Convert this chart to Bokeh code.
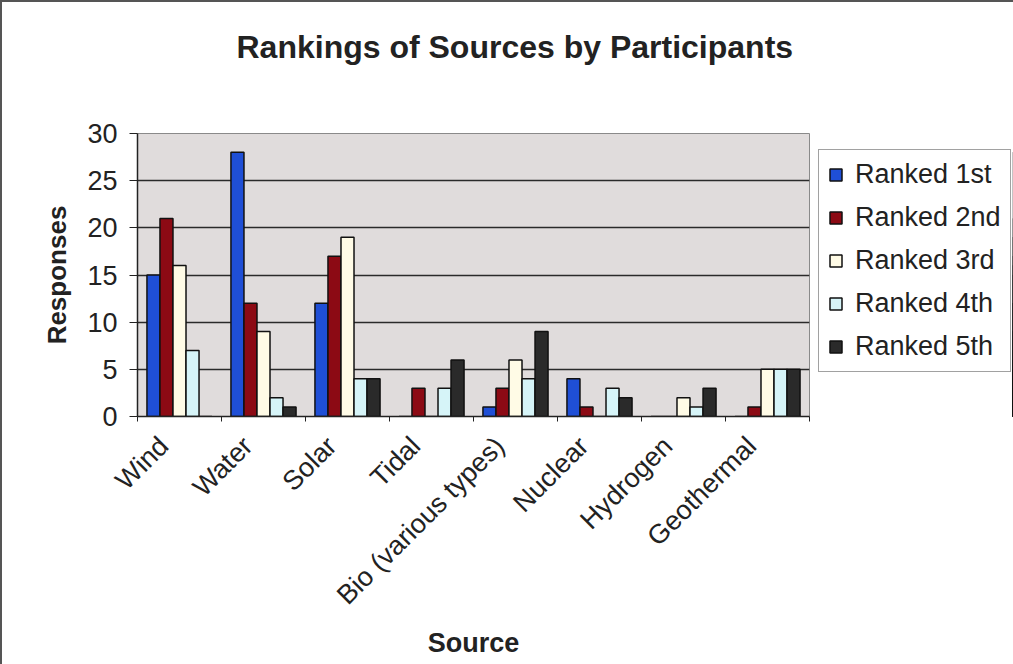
from bokeh.plotting import figure
from bokeh.models import ColumnDataSource, FixedTicker, Legend, LegendItem, Range1d, Title
from bokeh.layouts import row
from bokeh.transform import dodge
from bokeh.embed import file_html
from bokeh.resources import INLINE

# Survey results: how many participants ranked each energy source 1st..5th
sources = ["Wind", "Water", "Solar", "Tidal", "Bio (various types)",
           "Nuclear", "Hydrogen", "Geothermal"]
ranked_1st = [15, 28, 12, 0, 1, 4, 0, 0]
ranked_2nd = [21, 12, 17, 3, 3, 1, 0, 1]
ranked_3rd = [16, 9, 19, 0, 6, 0, 2, 5]
ranked_4th = [7, 2, 4, 3, 4, 3, 1, 5]
ranked_5th = [0, 1, 4, 6, 9, 2, 3, 5]
series_labels = ["Ranked 1st", "Ranked 2nd", "Ranked 3rd", "Ranked 4th", "Ranked 5th"]
y_ticks = [0, 5, 10, 15, 20, 25, 30]

series_values = [ranked_1st, ranked_2nd, ranked_3rd, ranked_4th, ranked_5th]
series_keys = ["r1", "r2", "r3", "r4", "r5"]
colors = ["#1f4fd6", "#8c0a14", "#fffbe6", "#d6f4f8", "#2a2a2a"]

n = len(sources)
centers = [i + 0.5 for i in range(n)]
# rotated category labels hang slightly left of the group centre
label_pos = [i + 0.3125 for i in range(n)]
data = {"pos": centers}
for k, v in zip(series_keys, series_values):
    data[k] = v
src = ColumnDataSource(data)

FONT = "Liberation Sans"
INK = "#222222"
bar_w = 0.155
offsets = [-2 * bar_w, -bar_w, 0, bar_w, 2 * bar_w]

p = figure(width=810, height=664, output_backend="svg", toolbar_location=None,
           x_range=Range1d(0, n), y_range=Range1d(0, max(y_ticks)),
           min_border_left=135, min_border_right=3,
           min_border_top=131, min_border_bottom=250, title=None)
p.background_fill_color = "#e0dcdc"
p.border_fill_color = "white"
p.outline_line_color = "#8a8a8a"
p.outline_line_width = 1

# spacer keeps the heading clear of the plot area
p.add_layout(Title(text=" ", text_font_size="30px", standoff=34), "above")
p.add_layout(Title(text="Rankings of Sources by Participants", align="left", offset=99,
                   standoff=0, text_font=FONT, text_font_style="bold",
                   text_font_size="32px", text_color=INK), "above")

for k, off, c in zip(series_keys, offsets, colors):
    p.vbar(x=dodge("pos", off, range=p.x_range), top=k, width=bar_w,
           bottom=0, source=src, fill_color=c, line_color="#111111",
           line_width=1.5)

# y axis
p.yaxis.ticker = FixedTicker(ticks=y_ticks)
p.yaxis.axis_line_color = INK
p.yaxis.axis_line_width = 1.5
p.yaxis.major_tick_out = 8
p.yaxis.major_tick_in = 0
p.yaxis.minor_tick_out = 0
p.yaxis.minor_tick_in = 0
p.yaxis.major_tick_line_color = INK
p.yaxis.major_label_standoff = 12
p.yaxis.major_label_text_font = FONT
p.yaxis.major_label_text_font_size = "27px"
p.yaxis.major_label_text_color = INK
p.yaxis.axis_label = "Responses"
p.yaxis.axis_label_text_font = FONT
p.yaxis.axis_label_text_font_style = "bold"
p.yaxis.axis_label_text_font_size = "26px"
p.yaxis.axis_label_text_color = INK
p.yaxis.axis_label_standoff = 12

# x axis: rotated labels, tick marks at category boundaries
p.xaxis.ticker = FixedTicker(ticks=label_pos, minor_ticks=list(range(n + 1)))
p.xaxis.major_label_overrides = {c: s for c, s in zip(label_pos, sources)}
p.xaxis.major_label_orientation = 0.785398
p.xaxis.major_tick_out = 0
p.xaxis.major_tick_in = 0
p.xaxis.minor_tick_out = 5
p.xaxis.minor_tick_in = 0
p.xaxis.minor_tick_line_color = INK
p.xaxis.axis_line_color = INK
p.xaxis.axis_line_width = 1.5
p.xaxis.major_label_standoff = 20
p.xaxis.major_label_text_font = FONT
p.xaxis.major_label_text_font_size = "27px"
p.xaxis.major_label_text_color = INK
p.xaxis.axis_label = "Source"
p.xaxis.axis_label_text_font = FONT
p.xaxis.axis_label_text_font_style = "bold"
p.xaxis.axis_label_text_font_size = "27px"
p.xaxis.axis_label_text_color = INK
p.xaxis.axis_label_standoff = 4

p.xgrid.grid_line_color = None
p.ygrid.ticker = FixedTicker(ticks=y_ticks)
p.ygrid.grid_line_color = "#2a2a2a"
p.ygrid.grid_line_width = 1.5

# key panel to the right of the plot; its frame lines up with the plot frame,
# and its x range sits away from the bars so only the key itself shows
q = figure(width=201, height=664, output_backend="svg", toolbar_location=None,
           x_axis_location=None, y_axis_location=None, title=None,
           x_range=Range1d(-3, -2), y_range=Range1d(0, max(y_ticks)),
           min_border_left=6, min_border_top=131, min_border_right=0,
           min_border_bottom=250)
q.grid.visible = False
q.outline_line_color = None
q.background_fill_color = "white"
q.border_fill_color = "white"
key_renderers = [q.vbar(x=dodge("pos", off, range=q.x_range), top=k, width=bar_w,
                        bottom=0, source=src, fill_color=c, line_color="#111111",
                        line_width=1.5)
                 for k, off, c in zip(series_keys, offsets, colors)]

legend = Legend(items=[LegendItem(label=l, renderers=[r])
                       for l, r in zip(series_labels, key_renderers)],
                location=(0, 44))
legend.label_text_font = FONT
legend.label_text_font_size = "27px"
legend.label_text_color = INK
legend.glyph_width = 15
legend.glyph_height = 15
legend.label_standoff = 12
legend.spacing = 12
legend.padding = 9
legend.margin = 0
legend.border_line_color = "#444444"
legend.border_line_width = 1.5
legend.background_fill_color = "white"
legend.background_fill_alpha = 1
q.add_layout(legend)

layout = row(p, q)
layout.styles = {"border-top": "2px solid #555555", "border-left": "2px solid #555555"}

open("out.html", "w").write(file_html(layout, INLINE))
